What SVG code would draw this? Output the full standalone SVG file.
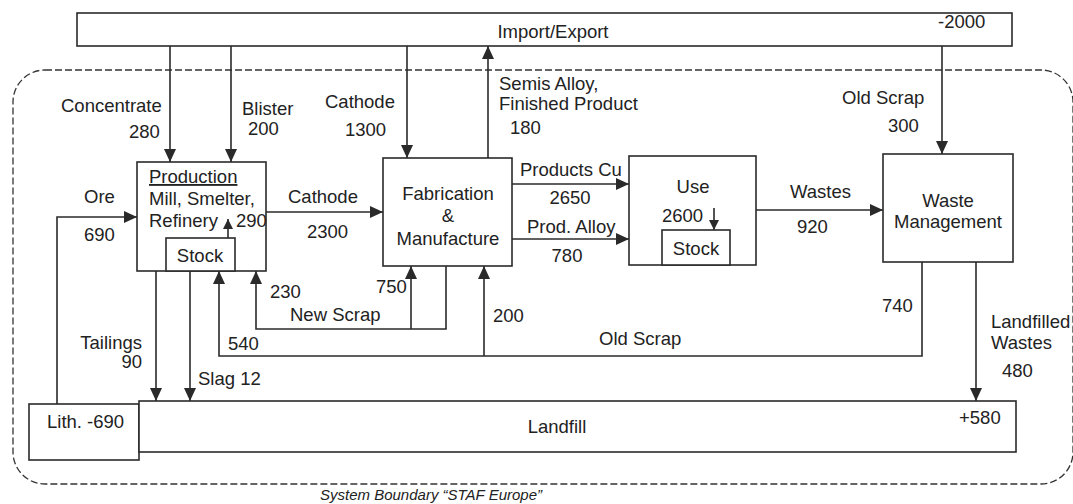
<svg xmlns="http://www.w3.org/2000/svg" width="1073" height="504" viewBox="0 0 1073 504">
<defs>
<style>
.box{fill:#fff;stroke:#2a2a2a;stroke-width:1.6}
.ln{fill:none;stroke:#2a2a2a;stroke-width:1.6}
.t{font-family:"Liberation Sans",Arial,sans-serif;font-size:18.5px;fill:#222}
.m{text-anchor:middle}
.e{text-anchor:end}
.bd{fill:none;stroke:#333;stroke-width:1.3;stroke-dasharray:7 3}
</style>
<marker id="ah" markerUnits="userSpaceOnUse" markerWidth="14" markerHeight="12" refX="13" refY="6" orient="auto">
<path d="M0,0 L13,6 L0,12 z" fill="#2a2a2a"/>
</marker>
<marker id="as" markerUnits="userSpaceOnUse" markerWidth="11" markerHeight="10" refX="10" refY="5" orient="auto">
<path d="M0,0 L10,5 L0,10 z" fill="#2a2a2a"/>
</marker>
</defs>
<rect width="1073" height="504" fill="#fff"/>

<rect class="bd" x="13" y="70" width="1060" height="414" rx="32"/>
<text class="t" x="320" y="500" style="font-style:italic;font-size:15px">System Boundary “STAF Europe”</text>

<g id="import-export">
<rect class="box" x="77" y="13" width="935" height="33"/>
<text class="t m" x="553" y="38">Import/Export</text>
<text class="t" x="938" y="28">-2000</text>
</g>

<g id="production">
<rect class="box" x="137" y="162" width="129" height="109"/>
<text class="t" x="149" y="183" style="text-decoration:underline">Production</text>
<text class="t" x="149" y="205">Mill, Smelter,</text>
<text class="t" x="149" y="227">Refinery</text>
</g>
<g id="production-stock">
<rect class="box" x="166" y="238" width="69" height="33"/>
<text class="t m" x="200" y="262">Stock</text>
</g>

<g id="fabrication">
<rect class="box" x="383" y="158" width="129" height="108"/>
<text class="t m" x="448" y="200">Fabrication</text>
<text class="t m" x="448" y="222">&amp;</text>
<text class="t m" x="448" y="245">Manufacture</text>
</g>

<g id="use">
<rect class="box" x="629" y="156" width="127" height="109"/>
<text class="t m" x="693" y="193">Use</text>
<text class="t" x="662" y="222">2600</text>
</g>
<g id="use-stock">
<rect class="box" x="662" y="230" width="68" height="35"/>
<text class="t m" x="696" y="255">Stock</text>
</g>

<g id="waste-management">
<rect class="box" x="883" y="154" width="130" height="108"/>
<text class="t m" x="948" y="207">Waste</text>
<text class="t m" x="948" y="228">Management</text>
</g>

<g id="lithosphere">
<rect class="box" x="29" y="404" width="110" height="56"/>
<text class="t" x="47" y="428">Lith. -690</text>
</g>

<g id="landfill">
<rect class="box" x="139" y="401" width="877" height="51"/>
<text class="t m" x="557" y="433">Landfill</text>
<text class="t" x="959" y="424">+580</text>
</g>

<g id="connectors">
<path class="ln" d="M170,46 V162" marker-end="url(#ah)"/>
<path class="ln" d="M231,46 V162" marker-end="url(#ah)"/>
<path class="ln" d="M407,46 V158" marker-end="url(#ah)"/>
<path class="ln" d="M488,158 V46" marker-end="url(#ah)"/>
<path class="ln" d="M942,46 V154" marker-end="url(#ah)"/>
<path class="ln" d="M57,404 V217 H137" marker-end="url(#ah)"/>
<path class="ln" d="M266,212 H383" marker-end="url(#ah)"/>
<path class="ln" d="M512,184 H629" marker-end="url(#ah)"/>
<path class="ln" d="M512,239 H629" marker-end="url(#ah)"/>
<path class="ln" d="M756,210 H883" marker-end="url(#ah)"/>
<path class="ln" d="M976,262 V401" marker-end="url(#ah)"/>
<path class="ln" d="M922,262 V356 H219 V271" marker-end="url(#ah)"/>
<path class="ln" d="M484,356 V266" marker-end="url(#ah)"/>
<path class="ln" d="M446,266 V329 H256 V271" marker-end="url(#ah)"/>
<path class="ln" d="M411,329 V266" marker-end="url(#ah)"/>
<path class="ln" d="M156,271 V401" marker-end="url(#ah)"/>
<path class="ln" d="M190,271 V401" marker-end="url(#ah)"/>
<path class="ln" d="M228,238 V219" marker-end="url(#as)"/>
<path class="ln" d="M714,208 V230" marker-end="url(#as)"/>
</g>

<g id="labels">
<text class="t" x="61" y="112">Concentrate</text>
<text class="t" x="129" y="138">280</text>
<text class="t" x="242" y="115">Blister</text>
<text class="t" x="248" y="135">200</text>
<text class="t" x="325" y="108">Cathode</text>
<text class="t" x="345" y="136">1300</text>
<text class="t" x="499" y="90">Semis Alloy,</text>
<text class="t" x="499" y="110">Finished Product</text>
<text class="t" x="510" y="134">180</text>
<text class="t" x="842" y="104">Old Scrap</text>
<text class="t" x="888" y="132">300</text>
<text class="t" x="84" y="203">Ore</text>
<text class="t" x="84" y="241">690</text>
<text class="t" x="288" y="203">Cathode</text>
<text class="t" x="307" y="238">2300</text>
<text class="t" x="520" y="176">Products Cu</text>
<text class="t m" x="570" y="204">2650</text>
<text class="t" x="527" y="233">Prod. Alloy</text>
<text class="t m" x="567" y="262">780</text>
<text class="t" x="790" y="198">Wastes</text>
<text class="t" x="797" y="233">920</text>
<text class="t" x="236" y="227">290</text>
<text class="t" x="270" y="298">230</text>
<text class="t" x="290" y="321">New Scrap</text>
<text class="t" x="376" y="293">750</text>
<text class="t" x="493" y="322">200</text>
<text class="t" x="599" y="345">Old Scrap</text>
<text class="t" x="228" y="350">540</text>
<text class="t" x="882" y="312">740</text>
<text class="t" x="991" y="328">Landfilled</text>
<text class="t" x="991" y="349">Wastes</text>
<text class="t" x="1002" y="377">480</text>
<text class="t e" x="142" y="349">Tailings</text>
<text class="t e" x="142" y="368">90</text>
<text class="t" x="198" y="385">Slag 12</text>
</g>
</svg>
